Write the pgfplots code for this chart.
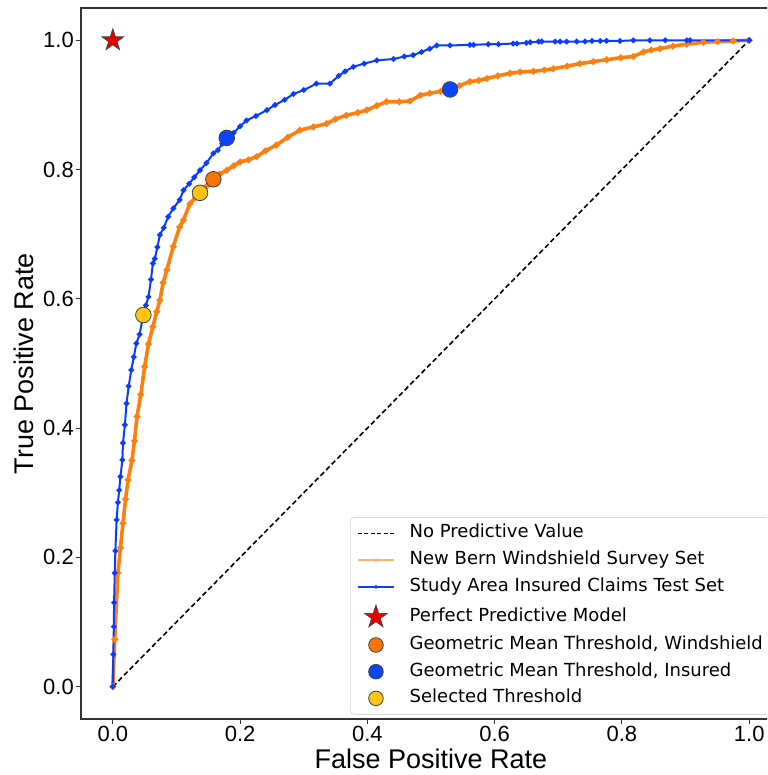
\documentclass[border=0pt]{standalone}
\usepackage{fontspec}
\setmainfont{Liberation Sans}
\newfontfamily\legendfont{DejaVu Sans}
\usepackage{pgfplots}
\pgfplotsset{compat=1.18}
\definecolor{cblue}{HTML}{0A3CFF}
\definecolor{corange}{HTML}{FF7F0E}
\definecolor{lorange}{HTML}{FFB070}
\definecolor{dorange}{HTML}{F97306}
\definecolor{dblue}{HTML}{0A44FF}
\definecolor{cyellow}{HTML}{FFC510}
\definecolor{cred}{HTML}{E80000}
\pgfdeclareplotmark{fstar}{%
  \pgfpathmoveto{\pgfpointpolar{90}{1\pgfplotmarksize}}%
  \pgfpathlineto{\pgfpointpolar{126}{0.382\pgfplotmarksize}}%
  \pgfpathlineto{\pgfpointpolar{162}{1\pgfplotmarksize}}%
  \pgfpathlineto{\pgfpointpolar{198}{0.382\pgfplotmarksize}}%
  \pgfpathlineto{\pgfpointpolar{234}{1\pgfplotmarksize}}%
  \pgfpathlineto{\pgfpointpolar{270}{0.382\pgfplotmarksize}}%
  \pgfpathlineto{\pgfpointpolar{306}{1\pgfplotmarksize}}%
  \pgfpathlineto{\pgfpointpolar{342}{0.382\pgfplotmarksize}}%
  \pgfpathlineto{\pgfpointpolar{18}{1\pgfplotmarksize}}%
  \pgfpathlineto{\pgfpointpolar{54}{0.382\pgfplotmarksize}}%
  \pgfpathclose
  \pgfusepathqfillstroke}
\begin{document}
\begin{tikzpicture}
\path[use as bounding box] (-81pt,-56pt) rectangle (686pt,719pt);
\clip (-81pt,-56pt) rectangle (686pt,719pt);
\begin{axis}[
  at={(0pt,0pt)}, anchor=south west,
  width=700pt, height=711pt, scale only axis,
  xmin=-0.05, xmax=1.05, ymin=-0.05, ymax=1.05,
  xtick={0,0.2,0.4,0.6,0.8,1}, ytick={0,0.2,0.4,0.6,0.8,1},
  xticklabels={0.0,0.2,0.4,0.6,0.8,1.0},
  yticklabels={0.0,0.2,0.4,0.6,0.8,1.0},
  xtick pos=bottom, ytick pos=left,
  tick align=outside, major tick length=5pt,
  tick style={black!80, line width=1pt},
  axis line style={black!80, line width=1.2pt},
  xticklabel style={font=\fontsize{22}{26}\selectfont, anchor=north, inner sep=0pt, yshift=-2pt},
  yticklabel style={font=\fontsize{22}{26}\selectfont, anchor=east, inner sep=0pt, xshift=-2pt},
  xlabel={False Positive Rate}, ylabel={True Positive Rate},
  xlabel style={font=\fontsize{27}{30}\selectfont, at={(axis description cs:0.5,-0.0703)}, anchor=base},
  ylabel style={font=\fontsize{27}{30}\selectfont, at={(axis description cs:-0.0814,0.5)}, anchor=center},
  legend image code/.code={\draw[mark repeat=2,mark phase=2,#1] plot coordinates {(0pt,0pt) (18pt,0pt) (36pt,0pt)};},
  legend cell align=left,
  legend style={at={(axis description cs:0.384,0.284)}, anchor=north west,
    draw=black!15, line width=0.8pt, rounded corners=4pt, fill=white,
    font=\legendfont\fontsize{18}{20}\selectfont,
    inner xsep=7pt, inner ysep=7.5pt,
    nodes={inner sep=0pt, text height=13pt, text depth=4pt},
    row sep=9.7pt, column sep=15pt},
]
% diagonal
\addplot[forget plot, black, line width=1.6pt, dash pattern=on 5pt off 3pt] coordinates {(0,0) (1,1)};
% orange curve
\addplot[forget plot, corange, line width=3.6pt, mark=*, mark size=1.1pt] coordinates {
(0,0) (0.003,0.073) (0.008,0.176) (0.012,0.215) (0.016,0.253) (0.020,0.29) (0.024,0.32)
(0.030,0.350) (0.034,0.380) (0.038,0.418) (0.044,0.452) (0.050,0.495) (0.056,0.530)
(0.063,0.557) (0.069,0.580) (0.074,0.598) (0.079,0.625) (0.085,0.645) (0.095,0.681)
(0.105,0.711) (0.111,0.722) (0.121,0.747) (0.130,0.757) (0.137,0.764) (0.148,0.775)
(0.158,0.785) (0.168,0.793) (0.179,0.799) (0.190,0.806) (0.200,0.812) (0.213,0.815)
(0.226,0.820) (0.240,0.829) (0.257,0.838) (0.275,0.850) (0.294,0.861) (0.315,0.866)
(0.336,0.871) (0.350,0.878) (0.367,0.884) (0.385,0.888) (0.399,0.892) (0.415,0.899)
(0.430,0.905) (0.450,0.905) (0.467,0.906) (0.483,0.915) (0.498,0.918) (0.515,0.921)
(0.530,0.924) (0.545,0.930) (0.561,0.936) (0.575,0.938) (0.588,0.941) (0.605,0.945)
(0.624,0.949) (0.640,0.951) (0.661,0.952) (0.678,0.954) (0.692,0.956) (0.714,0.960)
(0.734,0.964) (0.755,0.967) (0.776,0.970) (0.798,0.973) (0.818,0.975) (0.834,0.982)
(0.846,0.985) (0.860,0.987) (0.880,0.991) (0.902,0.994) (0.928,0.997) (0.950,0.998)
(0.975,0.999) (1,1)};
% blue curve
\addplot[forget plot, cblue, line width=2pt, mark=*, mark size=1.7pt] coordinates {
(0,0) (0.0008,0.05) (0.0016,0.093) (0.002,0.13) (0.003,0.176) (0.004,0.21) (0.006,0.258)
(0.008,0.285) (0.010,0.304) (0.012,0.325) (0.015,0.351) (0.016,0.377) (0.019,0.405)
(0.0215,0.438) (0.025,0.465) (0.029,0.490) (0.033,0.510) (0.037,0.531) (0.042,0.545)
(0.048,0.575) (0.052,0.590) (0.056,0.603) (0.060,0.630) (0.063,0.655) (0.066,0.662)
(0.070,0.680) (0.074,0.699) (0.080,0.710) (0.087,0.727) (0.095,0.740) (0.105,0.753)
(0.111,0.768) (0.120,0.778) (0.128,0.788) (0.137,0.799) (0.147,0.810) (0.158,0.825)
(0.165,0.830) (0.172,0.840) (0.179,0.849) (0.190,0.857) (0.200,0.867) (0.210,0.876)
(0.225,0.883) (0.242,0.892) (0.255,0.900) (0.270,0.908) (0.284,0.917) (0.300,0.923)
(0.320,0.933) (0.341,0.933) (0.355,0.945) (0.365,0.952) (0.378,0.959) (0.395,0.964)
(0.415,0.969) (0.441,0.971) (0.458,0.975) (0.472,0.977) (0.485,0.982) (0.498,0.987)
(0.509,0.992) (0.530,0.992) (0.561,0.993) (0.567,0.993) (0.590,0.994) (0.606,0.994)
(0.629,0.995) (0.635,0.995) (0.650,0.996) (0.656,0.997) (0.669,0.998) (0.674,0.998)
(0.695,0.998) (0.703,0.998) (0.713,0.998) (0.729,0.998) (0.742,0.998) (0.753,0.999)
(0.766,0.999) (0.776,0.999) (0.797,0.999) (0.818,1.0) (0.844,1.0) (0.868,1.0)
(0.902,1.0) (0.907,1.0) (1,1)};
% markers
\addplot[forget plot, only marks, mark=fstar, mark size=11.5pt, mark options={fill=cred, draw=black!75, line width=0.7pt}] coordinates {(0,1)};
\addplot[forget plot, only marks, mark=*, mark size=7.8pt, mark options={fill=dorange, draw=black!75, line width=0.8pt}] coordinates {(0.158,0.785)};
\addplot[forget plot, only marks, mark=*, mark size=7.8pt, mark options={fill=dblue, draw=black!75, line width=0.8pt}] coordinates {(0.179,0.849) (0.530,0.924)};
\addplot[forget plot, only marks, mark=*, mark size=7.8pt, mark options={fill=cyellow, draw=black!75, line width=0.8pt}] coordinates {(0.137,0.764) (0.048,0.575)};
% legend
\addlegendimage{black, line width=1.5pt, dash pattern=on 4pt off 2.5pt}
\addlegendentry{No Predictive Value}
\addlegendimage{lorange, line width=1.5pt, mark=*, mark size=1pt}
\addlegendentry{New Bern Windshield Survey Set}
\addlegendimage{cblue, line width=1.5pt, mark=*, mark size=1pt}
\addlegendentry{Study Area Insured Claims Test Set}
\addlegendimage{only marks, mark=fstar, mark size=12pt, mark options={fill=cred, draw=black!75, line width=0.7pt}}
\addlegendentry{Perfect Predictive Model}
\addlegendimage{only marks, mark=*, mark size=7.3pt, mark options={fill=dorange, draw=black!75, line width=0.8pt}}
\addlegendentry{Geometric Mean Threshold, Windshield}
\addlegendimage{only marks, mark=*, mark size=7.3pt, mark options={fill=dblue, draw=black!75, line width=0.8pt}}
\addlegendentry{Geometric Mean Threshold, Insured}
\addlegendimage{only marks, mark=*, mark size=7.3pt, mark options={fill=cyellow, draw=black!75, line width=0.8pt}}
\addlegendentry{Selected Threshold}
\end{axis}
\end{tikzpicture}
\end{document}
